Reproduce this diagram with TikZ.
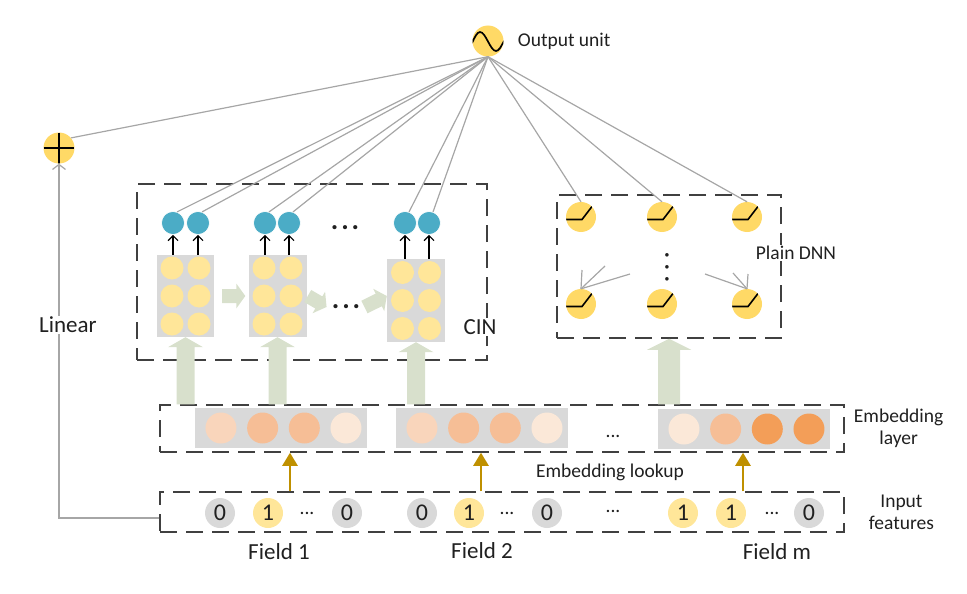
\documentclass[tikz,border=0pt]{standalone}
\usepackage{fontspec}
\setmainfont{Carlito}
\usetikzlibrary{positioning}
\usetikzlibrary{calc}
\usetikzlibrary{arrows.meta}

\definecolor{unitfill}{HTML}{FFD966}
\definecolor{cellfill}{HTML}{FFE699}
\definecolor{hidfill}{HTML}{4BACC6}
\definecolor{panelfill}{HTML}{D9D9D9}
\definecolor{flow}{RGB}{216,224,204}
\definecolor{gold}{HTML}{BF9000}
\definecolor{wirecol}{HTML}{A6A6A6}
\definecolor{boxline}{HTML}{404040}
\definecolor{txt}{HTML}{202020}
\definecolor{embA}{HTML}{F9D5BB}
\definecolor{embB}{HTML}{F6BE96}
\definecolor{embC}{HTML}{FBE8D8}
\definecolor{embD}{HTML}{F39E58}

\tikzset{
  fat/.style n args={3}{to path={
      let \p1=(\tikztostart), \p2=(\tikztotarget), \p3=($(\p2)!#3!(\p1)$) in
      ($(\p1)!#1!90:(\p2)$) -- ($(\p3)!#1!90:(\p2)$) -- ($(\p3)!#2!90:(\p2)$)
      -- (\p2) -- ($(\p3)!#2!-90:(\p2)$) -- ($(\p3)!#1!-90:(\p2)$)
      -- ($(\p1)!#1!-90:(\p2)$) -- cycle}},
  unit/.style={circle,fill=unitfill,inner sep=0pt,minimum size=31pt},
  sigmoid/.style={path picture={
      \draw[line width=1.7pt,shift={(path picture bounding box.center)}]
        (-16,2) sin (-8,-9) cos (0,0.5) sin (8,10) cos (16,0);}},
  plusmark/.style={path picture={
      \draw[line width=1.4pt]
        (path picture bounding box.west) -- (path picture bounding box.east)
        (path picture bounding box.north) -- (path picture bounding box.south);}},
  relu/.style={unit,minimum size=30pt,path picture={
      \draw[line width=1.6pt,shift={(path picture bounding box.center)}]
        (-15,2.5) -- (1,2.5) -- (11,-10.5);}},
  frame/.style={draw=boxline,line width=1.5pt,dash pattern=on 17pt off 9pt,inner sep=0pt},
  panel/.style={fill=panelfill,inner sep=0pt},
  cell/.style={circle,fill=cellfill,inner sep=0pt,minimum size=23pt},
  hid/.style={circle,fill=hidfill,draw=white,line width=0.6pt,inner sep=0pt,minimum size=23pt},
  embdot/.style={circle,inner sep=0pt,minimum size=31pt},
  bit/.style={circle,inner sep=0pt,minimum size=30pt,text=txt,font=\fontsize{24}{24}\selectfont},
  bitoff/.style={bit,fill=panelfill},
  biton/.style={bit,fill=cellfill},
  lbl/.style={text=txt,inner sep=0pt,font=\fontsize{19.5}{22}\selectfont},
  biglbl/.style={text=txt,inner sep=1pt,font=\fontsize{23}{26}\selectfont},
  gap/.style={text=txt,inner sep=0pt,font=\fontsize{19.5}{22}\selectfont},
  bigdots/.style={text=txt,inner sep=0pt,font=\fontsize{28}{28}\selectfont\bfseries},
  wire/.style={draw=wirecol,line width=1.2pt},
  up/.style={draw=black,line width=1.2pt,-{Straight Barb[length=5pt,width=10pt]}},
  lookup/.style={draw=gold,line width=2.4pt,-{Triangle[length=13pt,width=15pt]}},
}

\begin{document}
\begin{tikzpicture}[x=1pt,y=-1pt]
    \useasboundingbox (0,0) rectangle (967,594);

    % dashed frames
    \node[frame,minimum width=350pt,minimum height=176pt] (cinbox) at (312,272)   {};
    \node[frame,minimum width=224pt,minimum height=143pt] (dnnbox) at (669,266.5) {};
    \node[frame,minimum width=684pt,minimum height=47pt]  (embbox) at (502,428.5) {};
    \node[frame,minimum width=684pt,minimum height=40pt]  (inbox)  at (502,512)   {};

    % output and sum
    \node[unit,sigmoid]  (out)  at (488,41) {};
    \node[lbl] (outlbl) [right=14pt of out] {Output unit};
    \node[unit,plusmark] (plus) at (59,148) {};

    % CIN
    \node[panel,minimum width=57pt,minimum height=82pt] (r1) at (185.5,296) {};
    \node[panel,minimum width=58pt,minimum height=82pt] (r2) at (277.5,296) {};
    \node[panel,minimum width=58pt,minimum height=83pt] (r3) at (416,300.5) {};
    \foreach \r in {1,2,3}
        \foreach \i/\dx in {1/-13.5,2/13.5}
            \foreach \j/\dy in {1/-28,2/0,3/28}
                \node[cell] (c\r\i\j) at ($(r\r)+(\dx,\dy)$) {};

    \node[hid] (b11) at (173,223) {};
    \node[hid] (b12) at (198,223) {};
    \node[hid] (b21) at (265,223) {};
    \node[hid] (b22) at (289,223) {};
    \node[hid] (b31) at (405,223) {};
    \node[hid] (b32) at (429,223) {};
    \foreach \r in {1,2,3}
        \foreach \i in {1,2}
            \draw[up] (b\r\i |- r\r.north) -- (b\r\i);

    \node[bigdots] (hd1) at (345,228) {.\hspace{3pt}.\hspace{3pt}.};
    \node[bigdots] (hd2) at (346,307) {.\hspace{3pt}.\hspace{3pt}.};
    \node[biglbl,fill=white] (cinlbl) at (480,327) {CIN};

    \fill[flow] ([xshift=8pt]r1.east) to[fat={7pt}{12.5pt}{9pt}] ([xshift=-3pt]r2.west);
    \fill[flow] ([xshift=1pt]r2.east) to[fat={7pt}{12.5pt}{9pt}] ([xshift=-5pt]hd2.west);
    \fill[flow] ([xshift=4pt]hd2.east) to[fat={7pt}{12.5pt}{9pt}] (r3.west |- r2.east);

    % plain DNN
    \node[relu] (n11) at (581,217) {};
    \node[relu] (n12) at (662,217) {};
    \node[relu] (n13) at (747,217) {};
    \node[relu] (n21) at (581,304) {};
    \node[relu] (n22) at (662,304) {};
    \node[relu] (n23) at (747,304) {};
    \node[bigdots,font=\fontsize{24}{24}\selectfont\bfseries,rotate=90] (vd) at (667,267)
        {.\hspace{5.5pt}.\hspace{5.5pt}.};
    \node[lbl,fill=white,inner sep=1pt] (dnnlbl) at (796,253) {Plain DNN};

    \coordinate (fl1) at (582,270);
    \coordinate (fl2) at (605,266);
    \coordinate (fl3) at (630,274);
    \coordinate (fr1) at (748,274);
    \coordinate (fr2) at (733,273);
    \coordinate (fr3) at (705,274);
    \foreach \c in {fl1,fl2,fl3} \draw[wire] (\c) -- (n21.north);
    \foreach \c in {fr1,fr2,fr3} \draw[wire] (\c) -- (n23.north);

    % wires into the output unit
    \draw[wire] (out.south) -- (plus.40);
    \foreach \t in {b11,b12,b21,b22,b31,b32} \draw[wire] (out.south) -- (\t.70);
    \foreach \t in {n11,n12,n13} \draw[wire] (out.south) -- (\t.north);

    % embedding layer
    \node[panel,minimum width=172pt,minimum height=40pt] (emb1) at (281,428) {};
    \node[panel,minimum width=172pt,minimum height=40pt] (emb2) at (482,428) {};
    \node[panel,minimum width=172pt,minimum height=40pt] (emb3) at (744,429) {};
    \foreach \g/\cols in {1/{embA,embB,embB,embC},2/{embA,embB,embB,embC},3/{embC,embB,embD,embD}}
        \foreach \c [count=\i] in \cols
            \node[embdot,fill=\c] (v\g\i) at ($(emb\g)+({41.67*\i-101.7},0)$) {};
    \node[gap] (embgap) at (613,436) {...};
    \node[lbl,align=center] (emblbl) [right=9pt of embbox] {Embedding\\layer};

    \fill[flow] (r1.south |- embbox.north) to[fat={9pt}{17.5pt}{10pt}] (r1.south);
    \fill[flow] (r2.south |- embbox.north) to[fat={9pt}{17.5pt}{10pt}] (r2.south);
    \fill[flow] (r3.south |- embbox.north) to[fat={9pt}{17.5pt}{10pt}] (r3.south);
    \fill[flow] (dnnbox.south |- embbox.north) to[fat={11pt}{22pt}{11pt}] (dnnbox.south);

    % input features
    \node[bitoff] (x11) at (220,513) {0};
    \node[biton]  (x12) at (268,513) {1};
    \node[gap]    (x13) at (307,513) {...};
    \node[bitoff] (x14) at (347,513) {0};
    \node[bitoff] (x21) at (422,513) {0};
    \node[biton]  (x22) at (469,513) {1};
    \node[gap]    (x23) at (507,513) {...};
    \node[bitoff] (x24) at (547,513) {0};
    \node[biton]  (x31) at (683,513) {1};
    \node[biton]  (x32) at (731,513) {1};
    \node[gap]    (x33) at (772,513) {...};
    \node[bitoff] (x34) at (809,513) {0};
    \node[gap] (ingap) at (613,511) {...};
    \node[lbl,align=center] (inlbl) [right=24pt of inbox] {Input\\features};

    \node[biglbl] (f1) at (279,552) {Field 1};
    \node[biglbl] (f2) at (482,551) {Field 2};
    \node[biglbl] (fm) at (777,552) {Field m};

    % lookup
    \coordinate (k1) at (290,472);
    \coordinate (k2) at (481,472);
    \coordinate (k3) at (743,472);
    \foreach \k in {k1,k2,k3} \draw[lookup] (inbox.north -| \k) -- (embbox.south -| \k);
    \node[lbl] (lookuplbl) at (610,472) {Embedding lookup};

    % linear part
    \draw[wire,-{Straight Barb[length=5pt,width=13pt]}] ([yshift=-6pt]inbox.west) -| (plus);
    \node[biglbl,fill=white] (linlbl) at (68,325) {Linear};
\end{tikzpicture}
\end{document}
